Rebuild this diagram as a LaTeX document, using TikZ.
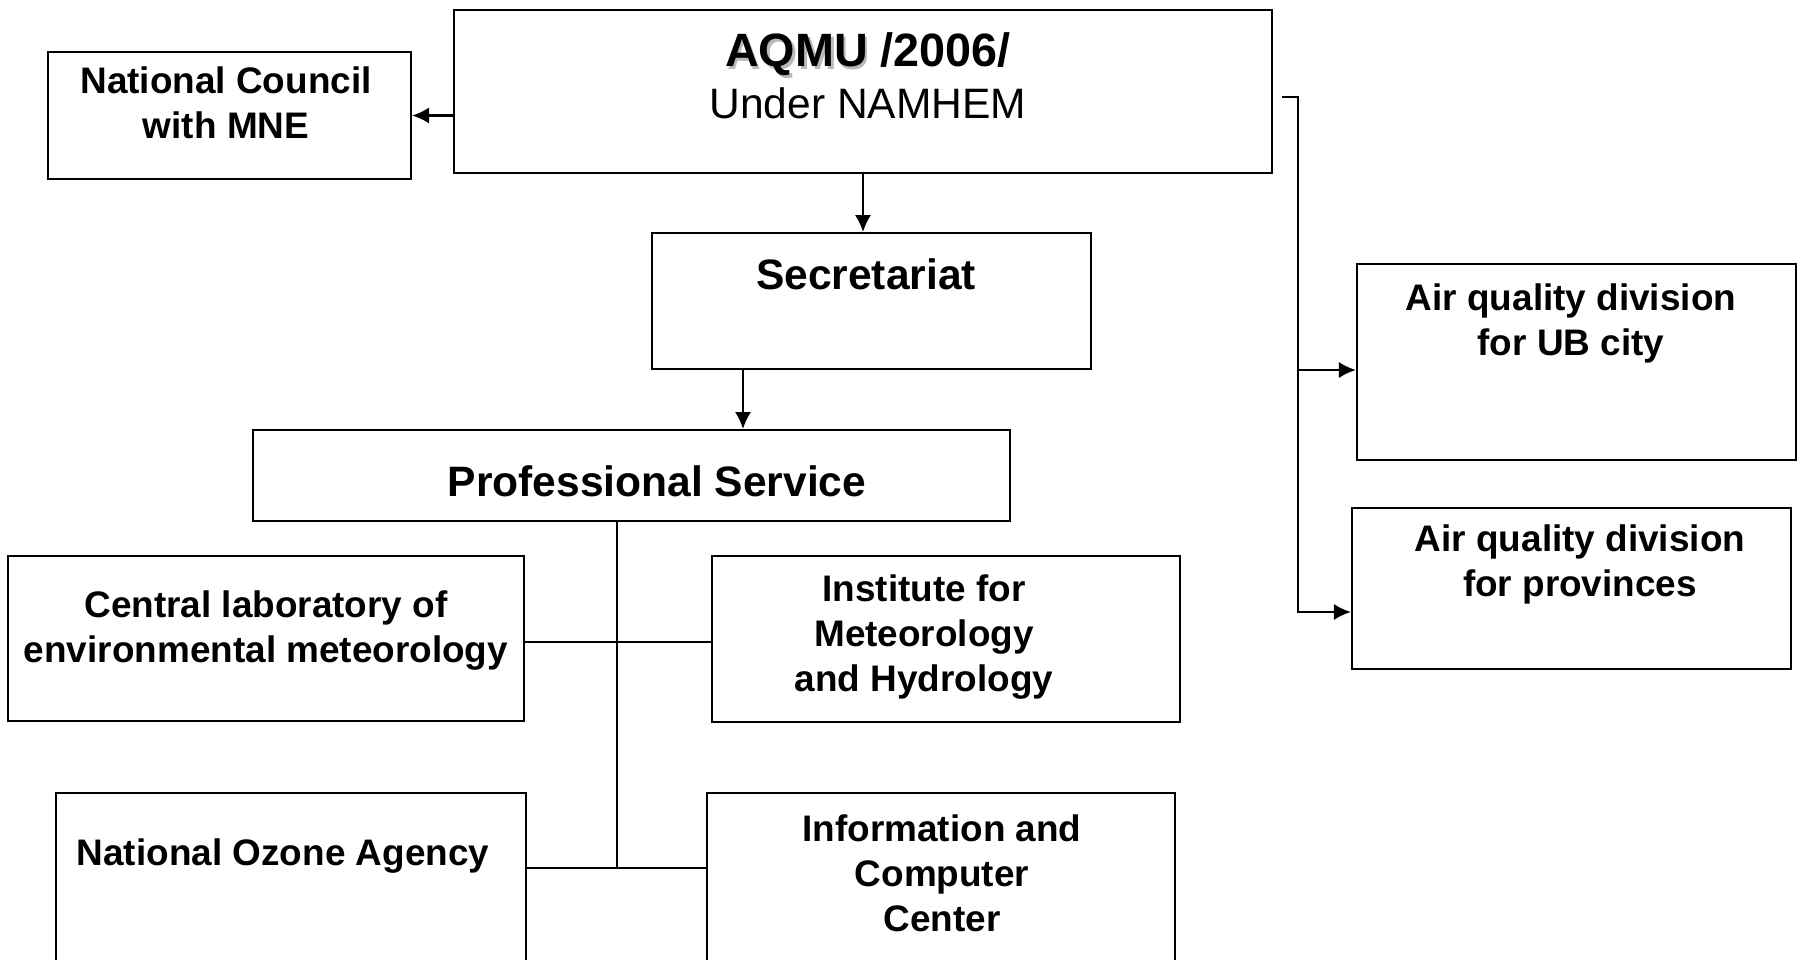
\documentclass[tikz,border=0pt]{standalone}
\usepackage{fontspec}
\setmainfont{Liberation Sans}
\usetikzlibrary{arrows.meta}
\NewDocumentCommand{\shadowword}{m}{%
\makebox[0pt][l]{\kern0.8pt\raisebox{-0.8pt}{\textcolor{gray!55}{#1}}}#1%
}

\begin{document}
\begin{tikzpicture}[x=0.01cm, y=-0.01cm, box/.style={draw, line width=0.6pt, inner sep=0pt}, txt/.style={align=center, font=\bfseries\fontsize{10.5}{12.8}\selectfont}, big/.style={align=center, font=\bfseries\fontsize{12.1}{14.8}\selectfont}, n/.style={-{Latex[length=4.8pt, width=4.6pt]}, line width=0.6pt}, l/.style={line width=0.6pt}]
        \useasboundingbox (0,0) rectangle (1805,959);
        % boxes
        \node[box, minimum width=8.18cm, minimum height=1.63cm] (aqmu) at (863,91.5) {};
        \node[box, minimum width=3.63cm, minimum height=1.27cm] (council) at (229.5,115.5) {};
        \node[box, minimum width=4.39cm, minimum height=1.36cm] (secr) at (871.5,301) {};
        \node[box, minimum width=7.57cm, minimum height=0.91cm] (prof) at (631.5,475.5) {};
        \node[box, minimum width=5.16cm, minimum height=1.65cm] (central) at (266,638.5) {};
        \node[box, minimum width=4.68cm, minimum height=1.66cm] (inst) at (946,639) {};
        \node[box, minimum width=4.70cm, minimum height=1.72cm] (ozone) at (291,879) {};
        \node[box, minimum width=4.68cm, minimum height=1.72cm] (info) at (941,879) {};
        \node[box, minimum width=4.39cm, minimum height=1.96cm] (ub) at (1576.5,362) {};
        \node[box, minimum width=4.39cm, minimum height=1.61cm] (prov) at (1571.5,588.5) {};
        % texts
        \node[align=center, font=\fontsize{12.1}{14.8}\selectfont] (aqmutext) at (868,76) {\textbf{\fontsize{13.3}{14.8}\selectfont\shadowword{AQMU} /2006/}\\Under NAMHEM};
        \node[txt] (counciltext) at (226,102.5) {National Council\\with MNE};
        \node[big] (secrtext) at (866,274) {Secretariat};
        \node[big] (proftext) at (657,481) {Professional Service};
        \node[txt] (centraltext) at (266,631) {Central laboratory of\\environmental meteorology};
        \node[txt] (insttext) at (924,637) {Institute for\\Meteorology\\and Hydrology};
        \node[txt] (ozonetext) at (283,856) {National Ozone Agency};
        \node[txt] (infotext) at (942,873) {Information and\\Computer\\Center};
        \node[txt] (ubtext) at (1571,323) {Air quality division\\for UB city};
        \node[txt] (provtext) at (1580,564.5) {Air quality division\\for provinces};
        % edges
        \coordinate (secrout) at (743,369);
        \coordinate (branch) at (617,642);
        \coordinate (trunk) at (617,868);
        \coordinate (tap) at (1282,97);
        \coordinate (rail) at (1298,97);
        \coordinate (rail1) at (1298,370);
        \coordinate (rail2) at (1298,612);
        \draw [n] (aqmu.west |- council.east) -- (council.east);
        \draw [n] (aqmu.south) -- (aqmu.south |- secr.north);
        \draw [n] (secrout) -- (secrout |- prof.north);
        \draw [l] (prof.south -| trunk) -- (trunk);
        \draw [l] (central.east |- branch) -- (inst.west |- branch);
        \draw [l] (ozone.east |- trunk) -- (info.west |- trunk);
        \draw [n] (tap) -- (rail) -- (rail2) -- (rail2 -| prov.west);
        \draw [n] (rail1) -- (rail1 -| ub.west);
    \end{tikzpicture}
\end{document}
